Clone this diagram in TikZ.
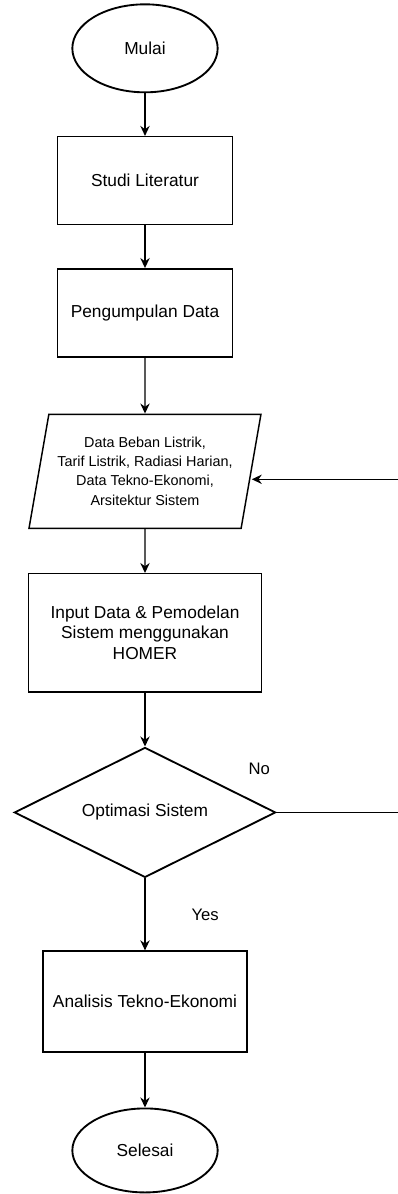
\documentclass[tikz,border=0pt]{standalone}
\usepackage{fontspec}
\setmainfont{Liberation Sans}
\usetikzlibrary{
  arrows.meta,
  shapes.geometric,
  positioning,
  calc
}
\tikzset{
  fcnode/.style={
    draw, line width=1.1pt, align=center, inner sep=2pt,
    font=\fontsize{13}{15.5}\selectfont
  },
  terminal/.style={fcnode, ellipse, line width=1.4pt, minimum width=109pt, minimum height=66pt},
  stepbox/.style={fcnode, rectangle, minimum width=131pt, minimum height=66pt},
  iobox/.style={fcnode, trapezium, trapezium left angle=75.7, trapezium right angle=104.3,
    trapezium stretches=true, minimum width=174pt, minimum height=85.5pt,
    font=\fontsize{10.8}{14.3}\selectfont},
  decision/.style={fcnode, diamond, aspect=2, line width=1.4pt, minimum width=196pt, minimum height=97.5pt},
  flow/.style={-{Stealth[length=7.5pt, width=7pt]}, line width=1.1pt},
  tag/.style={font=\fontsize{12.5}{15}\selectfont}
}

\begin{document}
\begin{tikzpicture}
  \useasboundingbox (-108.75pt,36.25pt) rectangle (189.75pt,-859.25pt);

  % main column
  \node[terminal] (mulai) {Mulai};
  \node[stepbox, below=32pt of mulai] (studi) {Studi Literatur};
  \node[stepbox, below=32pt of studi] (kumpul) {Pengumpulan Data};
  \node[iobox, below=42pt of kumpul] (data) {Data Beban Listrik,\\ Tarif Listrik, Radiasi Harian,\\ Data Tekno-Ekonomi,\\ Arsitektur Sistem};
  \node[stepbox, minimum width=174.75pt, minimum height=88.5pt, below=33pt of data] (homer) {Input Data \& Pemodelan\\ Sistem menggunakan\\ HOMER};
  \node[decision, below=40.5pt of homer] (opt) {Optimasi Sistem};
  \node[stepbox, minimum width=153pt, minimum height=75.75pt, below=54pt of opt] (tekno) {Analisis Tekno-Ekonomi};
  \node[terminal, minimum height=63pt, below=41pt of tekno] (selesai) {Selesai};

  \draw[flow] (mulai) -- (studi);
  \draw[flow] (studi) -- (kumpul);
  \draw[flow] (kumpul) -- (data);
  \draw[flow] (data) -- (homer);
  \draw[flow] (homer) -- (opt);
  \draw[flow] (opt) -- node[tag, right=31pt] {Yes} (tekno);
  \draw[flow] (tekno) -- (selesai);

  % loop back on the right
  \coordinate (rim) at (189.75pt,0);
  \path (data.center) ++(0,-6pt) coordinate (backy);
  \coordinate (noout) at (opt.east -| rim);
  \coordinate (backin) at (backy -| rim);
  \draw[line width=0.8pt] (opt.east) -- (noout);
  \node[tag] (nolbl) at ($(opt.east)+(-13pt,33pt)$) {No};
  \draw[flow, line width=1pt] (backin) -- (backy -| data.east);
\end{tikzpicture}
\end{document}
